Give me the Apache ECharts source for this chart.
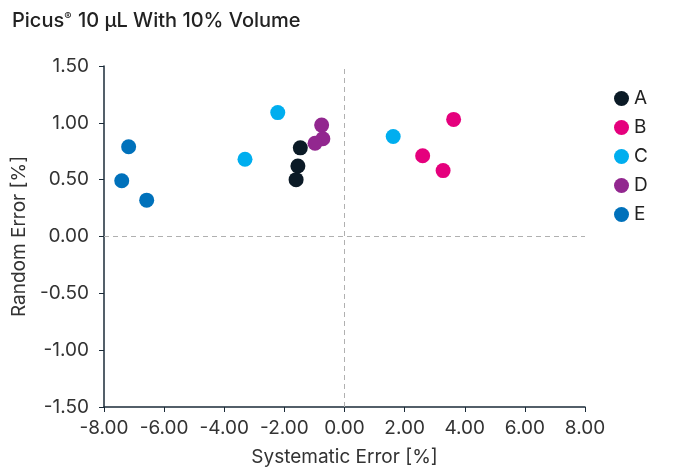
<!DOCTYPE html>
<html><head><meta charset="utf-8">
<script src="https://cdn.jsdelivr.net/npm/echarts@6/dist/echarts.min.js"></script>
<style>html,body{margin:0;padding:0;background:#fff}#c{width:686px;height:472px}</style>
</head><body><div id="c"></div>
<script>
const seriesNames = ['A', 'B', 'C', 'D', 'E'];
const colors = ['#0b1a26', '#e5007d', '#00aeef', '#92278f', '#0071bb'];
const A = [[-1.47, 0.78], [-1.55, 0.62], [-1.61, 0.50]];
const B = [[3.63, 1.03], [2.60, 0.71], [3.28, 0.58]];
const C = [[-2.22, 1.09], [-3.31, 0.68], [1.62, 0.88]];
const D = [[-0.76, 0.98], [-0.72, 0.86], [-0.98, 0.82]];
const E = [[-7.18, 0.79], [-7.41, 0.49], [-6.58, 0.32]];
const allData = [A, B, C, D, E];
const FONT = 'Inter';

const chart = echarts.init(document.getElementById('c'), null, {renderer: 'canvas'});
const series = seriesNames.map((n, i) => ({
  name: n, type: 'scatter', data: allData[i], symbolSize: 15,
  itemStyle: {color: colors[i], opacity: 1}, z: 3
}));
series[0].markLine = {
  silent: true, symbol: 'none', label: {show: false},
  lineStyle: {color: '#b0b0b0', type: [5, 4], width: 1},
  data: [{xAxis: 0}, {yAxis: 0}], z: 1
};
chart.setOption({
  animation: false,
  textStyle: {fontFamily: FONT},
  title: {
    text: '{a|Picus}{s|®}{a| 10 µL With 10% Volume}',
    left: 7, top: 6,
    textStyle: {rich: {
      a: {fontSize: 20, fontFamily: FONT, fontWeight: 500, color: '#222'},
      s: {fontSize: 11, fontFamily: FONT, fontWeight: 500, color: '#222', padding: [0, 1, 9, 0]}
    }}
  },
  legend: {
    orient: 'vertical', left: 609, top: 84, itemGap: 10,
    icon: 'circle', itemWidth: 15, itemHeight: 15,
    textStyle: {fontSize: 19, color: '#222', fontFamily: FONT, padding: [0, 0, 0, 0]},
    data: seriesNames
  },
  grid: {left: 104, right: 101, top: 66, bottom: 62, containLabel: false},
  xAxis: {
    type: 'value', min: -8, max: 8, interval: 2,
    name: 'Systematic Error [%]', nameLocation: 'middle', nameGap: 41,
    nameTextStyle: {fontSize: 19, color: '#333', fontFamily: FONT},
    axisLine: {show: true, onZero: false, lineStyle: {color: '#1b2b38', width: 1.5}},
    axisTick: {show: true, length: 5, lineStyle: {color: '#1b2b38'}},
    axisLabel: {fontSize: 19, color: '#333', margin: 12, formatter: v => v.toFixed(2)},
    splitLine: {show: false}
  },
  yAxis: {
    type: 'value', min: -1.5, max: 1.5, interval: 0.5,
    name: 'Random Error [%]', nameLocation: 'middle', nameGap: 73, nameRotate: 90,
    nameTextStyle: {fontSize: 19, color: '#333', fontFamily: FONT},
    axisLine: {show: true, onZero: false, lineStyle: {color: '#1b2b38', width: 1.5}},
    axisTick: {show: true, length: 5, lineStyle: {color: '#1b2b38'}},
    axisLabel: {fontSize: 19, color: '#333', margin: 15, formatter: v => v.toFixed(2)},
    splitLine: {show: false}
  },
  series: series
});
</script></body></html>
